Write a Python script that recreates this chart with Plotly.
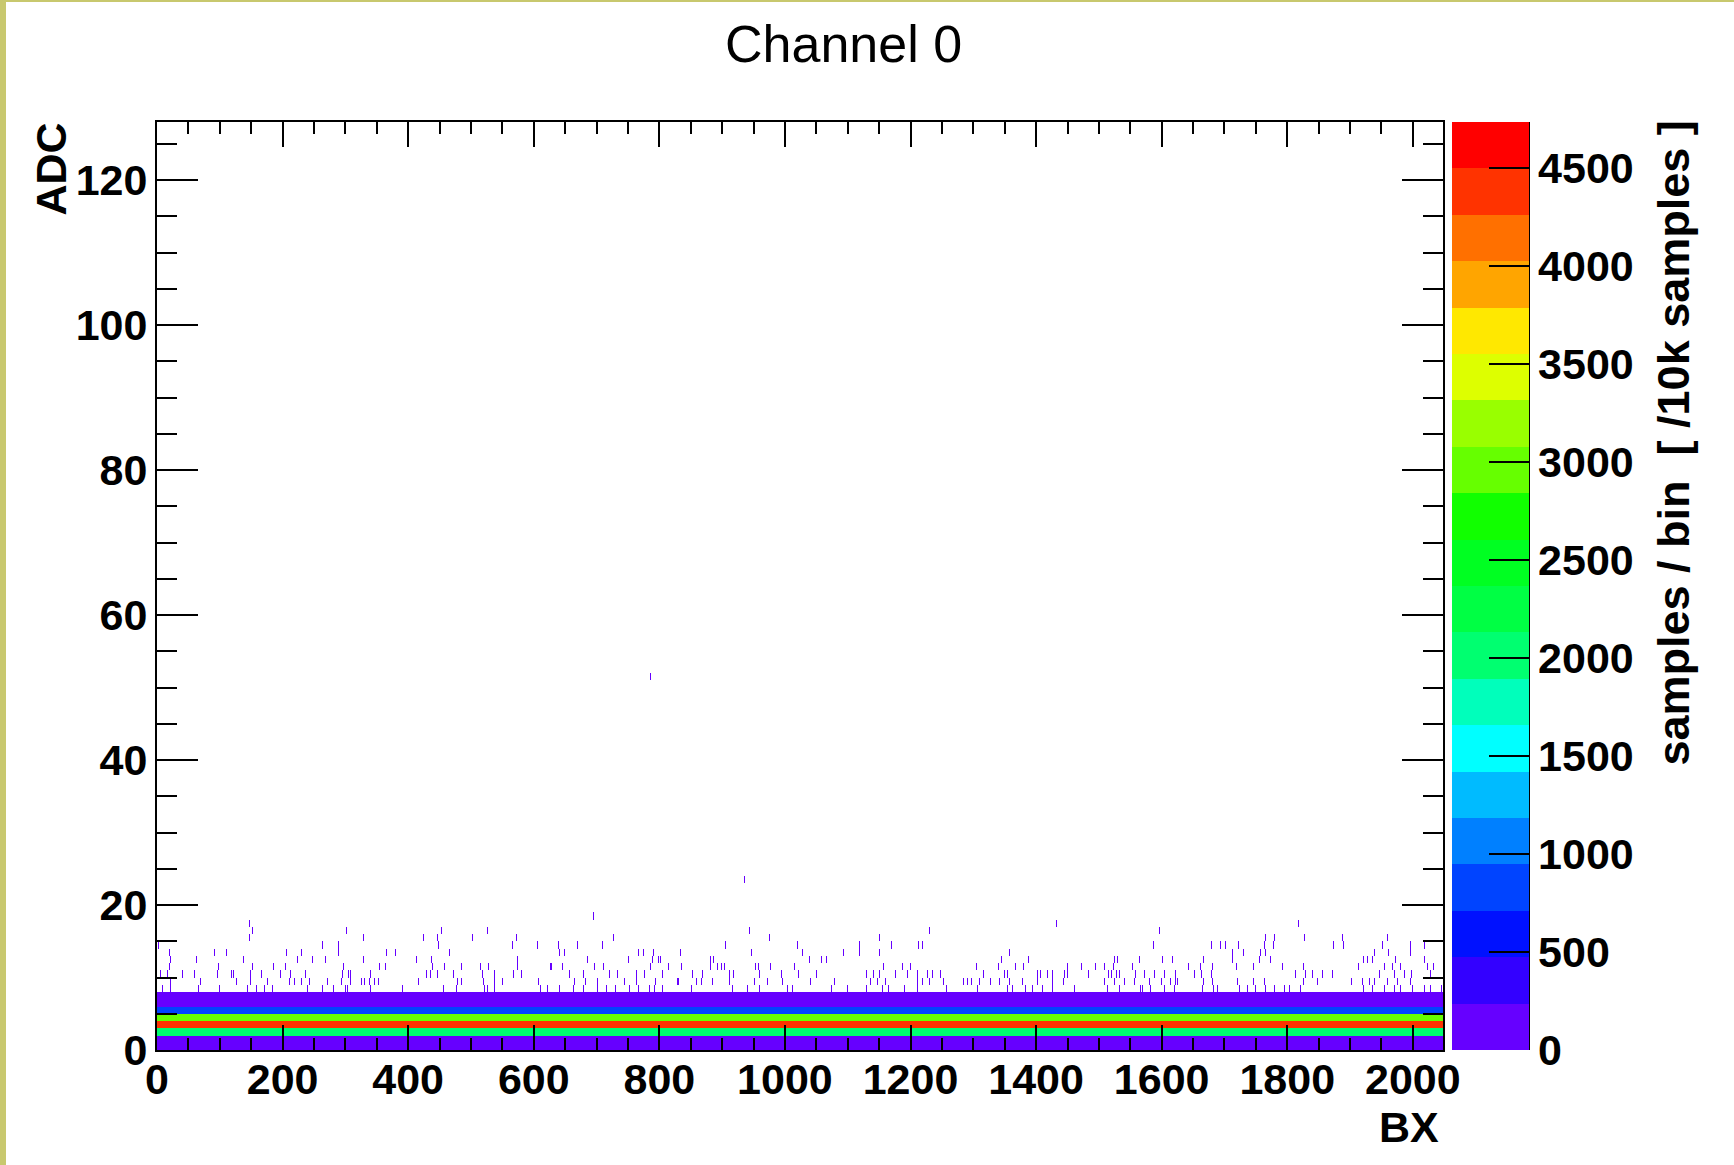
import plotly.graph_objects as go

# ---------------- data ----------------
N_BX = 2048          # BX bins (0..2048)
ADC_TOP = 128        # ADC axis range
Z_MAX = 4736         # histogram maximum (colour axis top)

# 20-step palette of the colour axis, bottom -> top
band_colors = ["#6600FF", "#3300FF", "#0011FF", "#0044FF", "#0080FF",
               "#00BBFF", "#00FFFF", "#00FFBB", "#00FF70", "#00FF44",
               "#00FF22", "#11FF00", "#66FF00", "#99FF00", "#DDFF00",
               "#FFE800", "#FFA500", "#FF7000", "#FF3300", "#FF0000"]

# dense pedestal rows: ADC bin -> samples / bin (per 10k samples)
dense_adc = [0, 1, 2, 3, 4, 5, 6, 7]
dense_counts = [60, 150, 1950, 4400, 2900, 900, 150, 12]

# sparse tail: ADC bin -> BX bins with a few entries
sparse_count = 3
tail_bx = {
    8: [8, 21, 25, 38, 66, 99, 127, 138, 144, 158, 171, 183, 194, 213, 239, 263, 272, 281, 300, 303, 313, 329, 340, 350, 361, 374, 390, 401,
        420, 456, 468, 476, 487, 521, 526, 537, 565, 595, 610, 621, 640, 663, 679, 701, 715, 730, 752, 759, 766, 784, 786, 792, 805, 826,
        851, 874, 916, 940, 959, 971, 998, 1004, 1012, 1044, 1074, 1081, 1099, 1119, 1129, 1143, 1155, 1164, 1190, 1211, 1229,
        1248, 1257, 1288, 1306, 1312, 1326, 1354, 1362, 1383, 1394, 1410, 1426, 1447, 1452, 1458, 1461, 1466, 1487, 1513, 1532, 1549, 1566, 1569, 1582, 1604, 1620, 1630, 1638, 1654,
        1664, 1682, 1688, 1723, 1736, 1749, 1765, 1779, 1795, 1803, 1821, 1834, 1858, 1866, 1885, 1898, 1921, 1935, 1954, 1970, 1980, 1999, 2018, 2028, 2045],
    9: [6, 21, 41, 69, 87, 114, 126, 143, 148, 157, 175, 202, 211, 218, 230, 242, 264, 271, 293, 308, 321, 325, 330, 338, 346, 352, 361, 374, 377, 393,
        416, 425, 463, 478, 484, 519, 537, 550, 600, 607, 638, 664, 682, 701, 727, 744, 763, 778, 788, 793, 828,
        830, 850, 859, 867, 884, 911, 951, 968, 972, 996, 1028, 1040, 1046, 1078, 1089, 1119, 1136, 1147, 1160, 1167, 1183, 1200, 1211, 1219, 1230,
        1245, 1252, 1284, 1290, 1297, 1304, 1309, 1327, 1341, 1353, 1357, 1378, 1382, 1396, 1402, 1426, 1443, 1455, 1460, 1484, 1492, 1508, 1524, 1540, 1556, 1580, 1599, 1614, 1621, 1625, 1656,
        1666, 1680, 1699, 1710, 1720, 1746, 1753, 1763, 1780, 1815, 1825, 1837, 1848, 1866, 1874, 1893, 1902, 1919, 1930, 1938, 1959, 1975, 1996, 2019, 2038],
    10: [5, 16, 40, 47, 59, 68, 73, 84, 96, 118, 121, 143, 148, 166, 176, 196, 212, 236, 259, 272, 295, 304, 308, 340, 353, 361, 372, 391, 401, 412,
         429, 435, 446, 472, 495, 518, 537, 567, 580, 619, 656, 667, 679, 705, 720, 733, 763, 776, 805, 826,
         852, 861, 868, 911, 918, 931, 939, 959, 968, 982, 994, 1009, 1021, 1050, 1119, 1129, 1141, 1150, 1176, 1195, 1211, 1221, 1227, 1235,
         1247, 1264, 1288, 1304, 1316, 1329, 1342, 1349, 1354, 1402, 1407, 1418, 1426, 1445, 1450, 1483, 1515, 1520, 1528, 1532, 1541, 1558, 1572, 1588, 1604, 1621, 1630, 1652,
         1663, 1679, 1689, 1710, 1726, 1737, 1756, 1780, 1813, 1829, 1840, 1856, 1872, 1890, 1898, 1917, 1933, 1946, 1970, 1986, 1997, 2028, 2035],
    11: [19, 41, 49, 76, 97, 116, 130, 135, 152, 181, 185, 204, 243, 297, 318, 354, 363, 388, 401,
         415, 438, 457, 477, 484, 506, 515, 527, 574, 626, 628, 645, 696, 711, 732, 745, 785, 814, 818,
         835, 881, 892, 898, 903, 915, 953, 957, 977, 1015, 1073, 1097, 1138, 1156, 1187, 1191, 1199,
         1256, 1275, 1305, 1340, 1367, 1379, 1444, 1450, 1472, 1487, 1494, 1508, 1523, 1546, 1553, 1565, 1640, 1642,
         1661, 1680, 1691, 1705, 1719, 1746, 1751, 1792, 1825, 1837, 1850, 1906, 1913, 1954, 1967, 1980, 1990, 2023, 2032],
    12: [21, 38, 62, 73, 79, 114, 137, 159, 176, 223, 240, 247, 259, 268, 299, 328, 358, 413,
         437, 447, 482, 501, 574, 667, 685, 724, 750, 789, 798, 801,
         881, 886, 915, 920, 1001, 1028, 1039, 1058, 1062, 1066, 1135, 1159, 1240,
         1259, 1344, 1358, 1387, 1519, 1524, 1529, 1552, 1564, 1589, 1601, 1617,
         1666, 1712, 1737, 1755, 1764, 1773, 1826, 1850, 1861, 1921, 1927, 1935, 1972, 1990, 2018],
    13: [19, 36, 41, 91, 110, 173, 206, 230, 289, 307, 313, 365, 379, 412,
         465, 498, 512, 640, 648, 735, 766, 774, 790, 815,
         833, 861, 899, 912, 946, 968, 1001, 1027, 1049, 1093, 1103, 1118, 1150, 1232,
         1296, 1357, 1385, 1476, 1501, 1565, 1613, 1656,
         1712, 1730, 1757, 1765, 1823, 1845, 1938, 1961, 1996, 2041],
    14: [2, 263, 289, 448, 479, 566, 605, 639, 669, 709,
         866, 905, 985, 1020, 1118, 1169, 1212, 1219, 1501, 1586,
         1679, 1693, 1701, 1722, 1763, 1778, 1804, 1826, 1873, 1889, 1951, 1996, 2018],
    15: [147, 227, 296, 328, 396, 424, 446, 502, 572, 726,
         861, 896, 975, 1132, 1138, 1150, 1329, 1460, 1627,
         1737, 1765, 1779, 1827, 1887, 1959],
    16: [116, 152, 301, 453, 520, 526, 943, 1230, 1596, 1963],
    17: [147, 1432, 1670, 1817],
    18: [695],
    20: [460],
    23: [935],
    51: [785],
}

# ---------------- build histogram ----------------
n_rows = max(max(dense_adc), max(tail_bx)) + 1
z = [[None] * N_BX for _ in range(n_rows)]
for adc, cnt in zip(dense_adc, dense_counts):
    z[adc] = [cnt] * N_BX
for adc, bxs in tail_bx.items():
    for b in bxs:
        if 0 <= b < N_BX:
            z[adc][b] = sparse_count

n_bands = len(band_colors)
colorscale = []
for i, c in enumerate(band_colors):
    colorscale.append([i / n_bands, c])
    colorscale.append([(i + 1) / n_bands, c])

# ---------------- geometry (pixels) ----------------
W, H = 1734, 1165
L, R, T, B = 157, 1443, 122, 1050
PW, PH = R - L, B - T


def px(xp):
    return (xp - L) / PW


def py(yp):
    return (B - yp) / PH


FONT = "Liberation Sans, Arial, Helvetica, sans-serif"
tickfont = dict(family=FONT, size=43, color="black", weight="bold")

fig = go.Figure()
fig.add_trace(go.Heatmap(
    z=z,
    x=list(range(N_BX + 1)),
    y=list(range(n_rows + 1)),
    zmin=0, zmax=Z_MAX,
    colorscale=colorscale,
    hoverongaps=False,
    colorbar=dict(
        x=px(1452), xanchor="left", xpad=0, xref="paper",
        y=0.5, yanchor="middle", ypad=0, len=1, lenmode="fraction",
        thickness=77, thicknessmode="pixels",
        outlinewidth=0,
        tickmode="array", tickvals=list(range(0, 5000, 500)),
        ticks="inside", ticklen=40, tickwidth=2, tickcolor="black",
        tickfont=tickfont,
    ),
))

axis_common = dict(showgrid=False, zeroline=False, showline=True, linecolor="black",
                   linewidth=2, mirror="allticks", ticks="inside", tickcolor="black",
                   tickwidth=2, tickfont=tickfont)

fig.update_xaxes(range=[0, N_BX], tick0=0, dtick=200, ticklen=25,
                 minor=dict(dtick=50, ticklen=12, ticks="inside", tickcolor="black", tickwidth=2),
                 ticklabelstandoff=-10, **axis_common)
fig.update_yaxes(range=[0, ADC_TOP], tick0=0, dtick=20, ticklen=41,
                 minor=dict(dtick=5, ticklen=20, ticks="inside", tickcolor="black", tickwidth=2),
                 ticklabelstandoff=-1, **axis_common)

annotations = [
    dict(text="Channel 0", x=px(843), y=py(44), xanchor="center", yanchor="middle",
         font=dict(family=FONT, size=52, color="black")),
    dict(text="ADC", x=px(51), y=py(121), textangle=-90, xanchor="center", yanchor="top",
         font=dict(family=FONT, size=43, color="black", weight="bold")),
    dict(text="BX", x=px(1441), y=py(1127), xanchor="right", yanchor="middle",
         font=dict(family=FONT, size=43, color="black", weight="bold")),
    dict(text="samples / bin  [ /10k samples ]", x=px(1673), y=py(119), textangle=-90,
         xanchor="center", yanchor="top",
         font=dict(family=FONT, size=45, color="black", weight="bold")),
]
for a in annotations:
    a.update(xref="paper", yref="paper", showarrow=False)

shapes = [
    # colour-bar axis line
    dict(type="line", xref="paper", yref="paper", x0=px(1529), x1=px(1529), y0=0, y1=1,
         line=dict(color="black", width=2)),
    # canvas frame stripes
    dict(type="rect", xref="paper", yref="paper", x0=px(0), x1=px(6), y0=py(0), y1=py(H),
         fillcolor="#C8C86E", line=dict(width=0), layer="below"),
    dict(type="rect", xref="paper", yref="paper", x0=px(0), x1=px(W), y0=py(0), y1=py(2),
         fillcolor="#C8C86E", line=dict(width=0), layer="below"),
]

fig.update_layout(
    width=W, height=H,
    margin=dict(l=L, r=W - R, t=T, b=H - B, pad=0),
    paper_bgcolor="white", plot_bgcolor="white",
    annotations=annotations, shapes=shapes,
    showlegend=False,
)

fig.write_html("out.html")
